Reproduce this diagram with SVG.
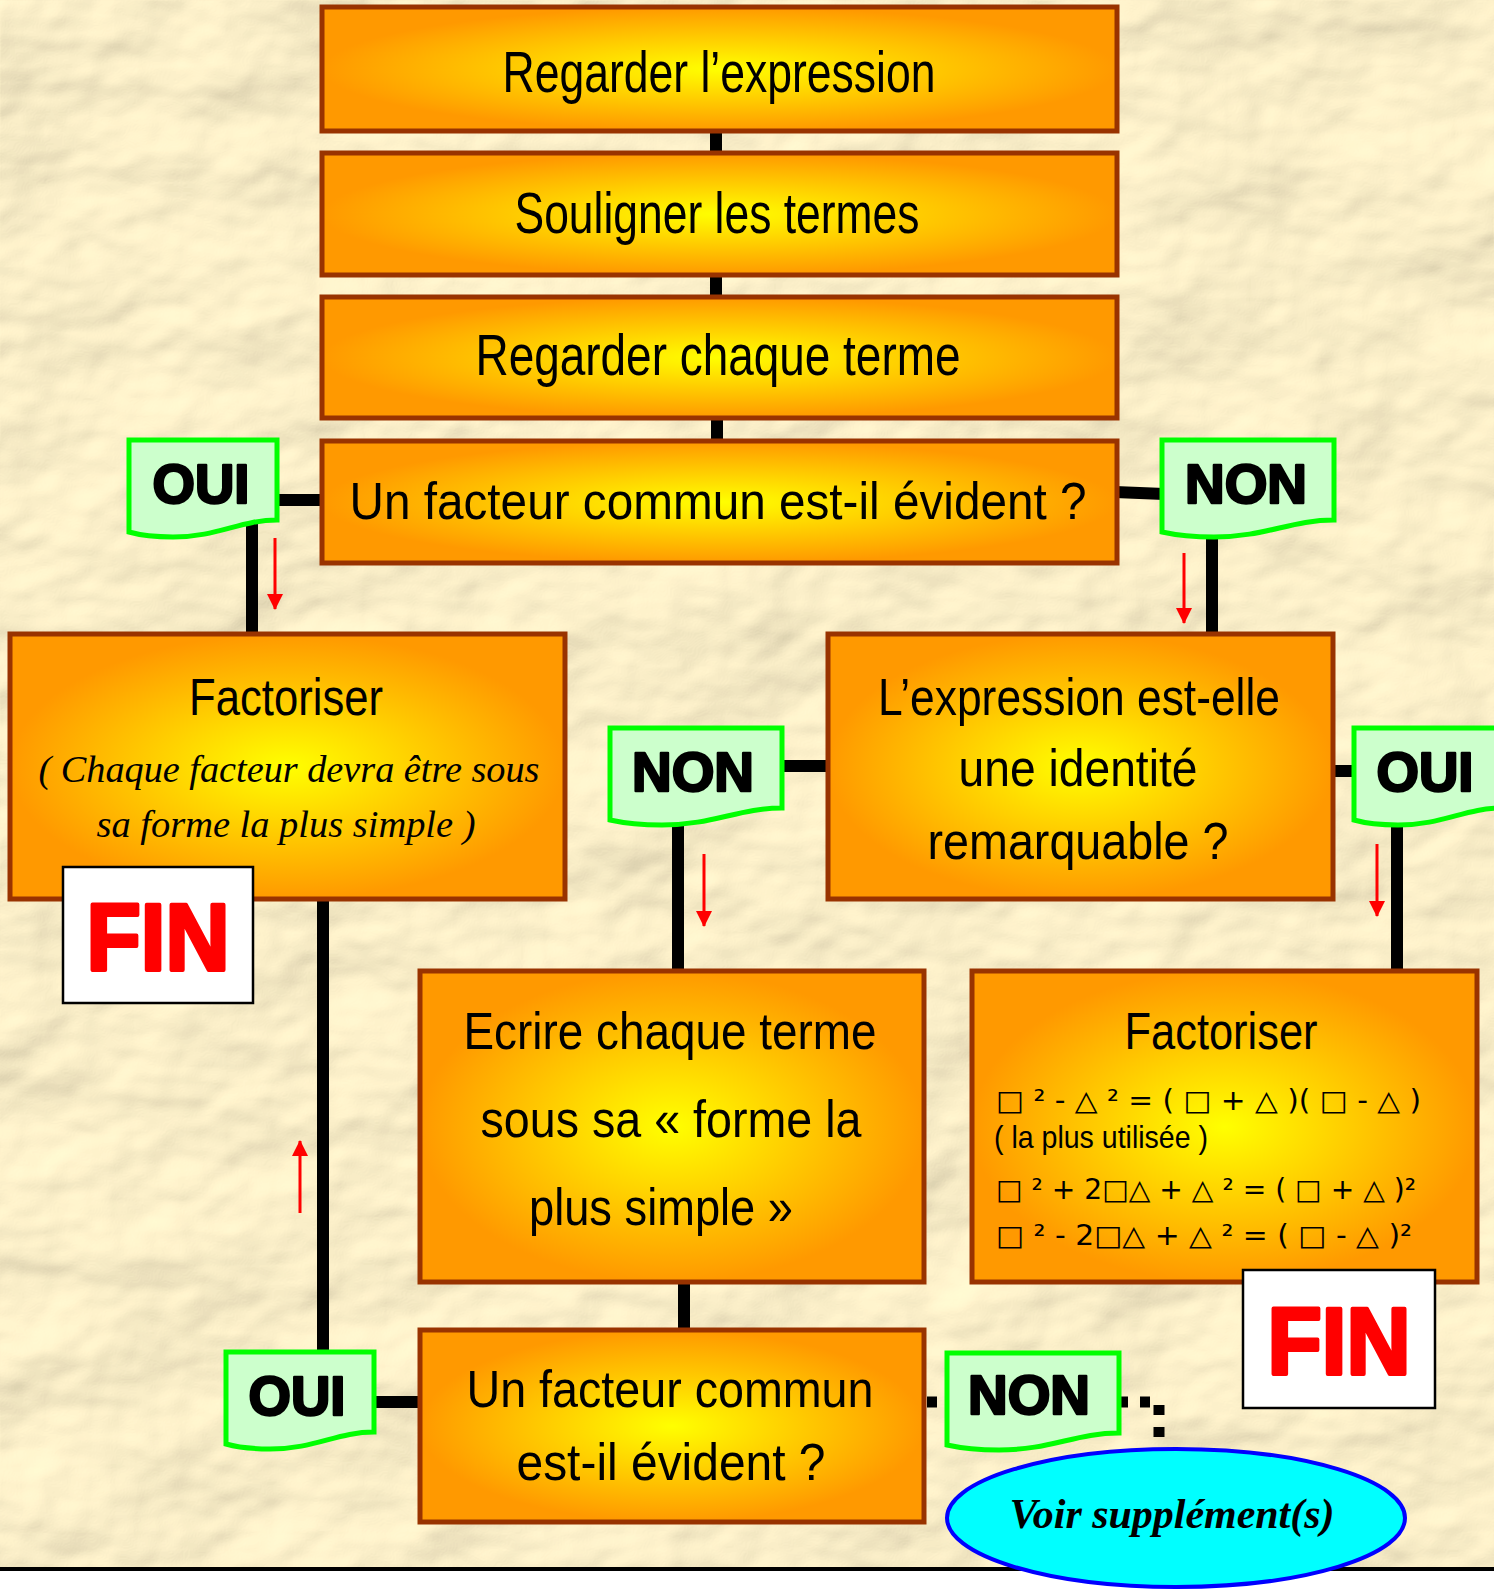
<svg xmlns="http://www.w3.org/2000/svg" xmlns:xlink="http://www.w3.org/1999/xlink" width="1494" height="1589" viewBox="0 0 1494 1589">
<style>
.box{fill:url(#boxg);stroke:#993300;stroke-width:5}
.flagshape{fill:#ccffcc;stroke:#00ff00;stroke-width:5}
.hw{font-family:"Liberation Sans","DejaVu Sans",sans-serif;fill:#000;text-anchor:middle}
.big{font-size:58px}
.mid{font-size:52px}
.scr{font-family:"Liberation Serif",serif;font-style:italic;fill:#000;text-anchor:middle}
.flagtxt{font-family:"Liberation Sans",sans-serif;font-weight:bold;font-size:55px;fill:#000;stroke:#000;stroke-width:2.5;stroke-linejoin:round;text-anchor:middle}
.fin{font-family:"Liberation Sans",sans-serif;font-weight:bold;font-size:94px;fill:#ff0000;stroke:#ff0000;stroke-width:4;stroke-linejoin:round;text-anchor:middle}
.finbox{fill:#fff;stroke:#000;stroke-width:2.5}
.math{font-family:"DejaVu Sans",sans-serif;font-size:28px;fill:#000}
.conn{stroke:#000;stroke-width:12;fill:none}
.dot{stroke:#000;stroke-width:11;fill:none;stroke-dasharray:10 12}
.red{stroke:#ff0000;stroke-width:3;fill:none;marker-end:url(#ah)}
</style>
<defs>
<radialGradient id="boxg" cx="50%" cy="50%" r="50%">
<stop offset="0" stop-color="#ffff00"/>
<stop offset="1" stop-color="#ff9900"/>
</radialGradient>
<filter id="paper" filterUnits="userSpaceOnUse" x="0" y="0" width="1494" height="1568">
<feTurbulence type="fractalNoise" baseFrequency="0.0055 0.0075" numOctaves="4" seed="11" result="noise"/>
<feDiffuseLighting in="noise" surfaceScale="13" diffuseConstant="1.08" lighting-color="#fff3cc" result="lit">
<feDistantLight azimuth="235" elevation="62"/>
</feDiffuseLighting>
<feComposite in="lit" in2="SourceGraphic" operator="in"/>
</filter>
<marker id="ah" viewBox="0 0 16 16" refX="15" refY="8" markerWidth="16" markerHeight="16" markerUnits="userSpaceOnUse" orient="auto">
<path d="M0,0 L16,8 L0,16 Z" fill="#ff0000"/>
</marker>
<path id="flagOUI" class="flagshape" d="M0,0 H148 V80 C111,80 89,97 44,97 C22,97 7,94 0,92 Z"/>
<path id="flagNON" class="flagshape" d="M0,0 H172 V80 C129,80 103,97 52,97 C26,97 9,94 0,92 Z"/>
</defs>

<g id="background">
<rect x="0" y="0" width="1494" height="1589" fill="#ffffff"/>
<rect x="0" y="0" width="1494" height="1568" fill="#fbf0cc" filter="url(#paper)"/>
<rect x="0" y="1567" width="1494" height="4" fill="#000"/>
</g>

<g id="connectors">
<line class="conn" x1="716" y1="129" x2="716" y2="155"/>
<line class="conn" x1="716" y1="273" x2="716" y2="299"/>
<line class="conn" x1="717" y1="416" x2="717" y2="443"/>
<line class="conn" x1="275" y1="500" x2="324" y2="500"/>
<line class="conn" x1="1115" y1="492" x2="1164" y2="494"/>
<line class="conn" x1="252" y1="520" x2="252" y2="636"/>
<line class="conn" x1="1212" y1="530" x2="1212" y2="636"/>
<line class="conn" x1="780" y1="766" x2="830" y2="766"/>
<line class="conn" x1="1331" y1="771" x2="1356" y2="771"/>
<line class="conn" x1="678" y1="815" x2="678" y2="973"/>
<line class="conn" x1="1397" y1="815" x2="1397" y2="973"/>
<line class="conn" x1="323" y1="897" x2="323" y2="1354"/>
<line class="conn" x1="372" y1="1402" x2="422" y2="1402"/>
<line class="conn" x1="684" y1="1280" x2="684" y2="1332"/>
<line class="dot" x1="926" y1="1402" x2="948" y2="1402" stroke-dasharray="10 6" stroke-dashoffset="-1"/>
<polyline class="dot" points="1118,1402 1159,1402 1159,1452"/>
<line class="red" x1="275" y1="538" x2="275" y2="609"/>
<line class="red" x1="1184" y1="553" x2="1184" y2="623"/>
<line class="red" x1="704" y1="854" x2="704" y2="926"/>
<line class="red" x1="1377" y1="844" x2="1377" y2="916"/>
<line class="red" x1="300" y1="1213" x2="300" y2="1141"/>
</g>

<g id="n1">
<rect class="box" x="322" y="7" width="795" height="124"/>
<text class="hw big" x="719" y="92" textLength="433" lengthAdjust="spacingAndGlyphs">Regarder l’expression</text>
</g>
<g id="n2">
<rect class="box" x="322" y="153" width="795" height="122"/>
<text class="hw big" x="717" y="233" textLength="405" lengthAdjust="spacingAndGlyphs">Souligner les termes</text>
</g>
<g id="n3">
<rect class="box" x="322" y="297" width="795" height="121"/>
<text class="hw big" x="718" y="375" textLength="485" lengthAdjust="spacingAndGlyphs">Regarder chaque terme</text>
</g>
<g id="n4">
<rect class="box" x="322" y="441" width="795" height="122"/>
<text class="hw mid" x="718" y="519" textLength="737" lengthAdjust="spacingAndGlyphs">Un facteur commun est-il évident ?</text>
</g>

<g id="oui1">
<use xlink:href="#flagOUI" x="129" y="440"/>
<text class="flagtxt" x="201" y="503" textLength="97" lengthAdjust="spacingAndGlyphs">OUI</text>
</g>
<g id="non1">
<use xlink:href="#flagNON" x="1162" y="440"/>
<text class="flagtxt" x="1246" y="503" textLength="122" lengthAdjust="spacingAndGlyphs">NON</text>
</g>

<g id="n5">
<rect class="box" x="10" y="634" width="555" height="265"/>
<text class="hw mid" x="286" y="715" textLength="194" lengthAdjust="spacingAndGlyphs">Factoriser</text>
<text class="scr" font-size="38" x="289" y="782" textLength="501" lengthAdjust="spacingAndGlyphs">( Chaque facteur devra être sous</text>
<text class="scr" font-size="38" x="286" y="837" textLength="379" lengthAdjust="spacingAndGlyphs">sa forme la plus simple )</text>
</g>
<g id="fin1">
<rect class="finbox" x="63" y="867" width="190" height="136"/>
<text class="fin" x="158" y="970" textLength="143" lengthAdjust="spacingAndGlyphs">FIN</text>
</g>

<g id="n6">
<rect class="box" x="828" y="634" width="505" height="265"/>
<text class="hw mid" x="1079" y="715" textLength="402" lengthAdjust="spacingAndGlyphs">L’expression est-elle</text>
<text class="hw mid" x="1078" y="786" textLength="239" lengthAdjust="spacingAndGlyphs">une identité</text>
<text class="hw mid" x="1078" y="859" textLength="301" lengthAdjust="spacingAndGlyphs">remarquable ?</text>
</g>
<g id="non2">
<use xlink:href="#flagNON" x="610" y="728"/>
<text class="flagtxt" x="693" y="791" textLength="122" lengthAdjust="spacingAndGlyphs">NON</text>
</g>
<g id="oui2">
<use xlink:href="#flagOUI" x="1354" y="728"/>
<text class="flagtxt" x="1425" y="791" textLength="97" lengthAdjust="spacingAndGlyphs">OUI</text>
</g>

<g id="n7">
<rect class="box" x="420" y="971" width="504" height="311"/>
<text class="hw mid" x="670" y="1049" textLength="413" lengthAdjust="spacingAndGlyphs">Ecrire chaque terme</text>
<text class="hw mid" x="671" y="1137" textLength="381" lengthAdjust="spacingAndGlyphs">sous sa « forme la</text>
<text class="hw mid" x="661" y="1225" textLength="264" lengthAdjust="spacingAndGlyphs">plus simple »</text>
</g>

<g id="n8">
<rect class="box" x="972" y="971" width="505" height="311"/>
<text class="hw mid" x="1221" y="1049" textLength="193" lengthAdjust="spacingAndGlyphs">Factoriser</text>
<text class="math" x="996" y="1110" textLength="425" lengthAdjust="spacingAndGlyphs">□ ² - △ ² = ( □ + △ )( □ - △ )</text>
<text class="hw" font-size="32" x="994" y="1148" textLength="214" lengthAdjust="spacingAndGlyphs" style="text-anchor:start">( la plus utilisée )</text>
<text class="math" x="996" y="1199" textLength="420" lengthAdjust="spacingAndGlyphs">□ ² + 2□△ + △ ² = ( □ + △ )²</text>
<text class="math" x="996" y="1245" textLength="416" lengthAdjust="spacingAndGlyphs">□ ² - 2□△ + △ ² = ( □ - △ )²</text>
</g>
<g id="fin2">
<rect class="finbox" x="1243" y="1270" width="192" height="138"/>
<text class="fin" x="1339" y="1374" textLength="143" lengthAdjust="spacingAndGlyphs">FIN</text>
</g>

<g id="n9">
<rect class="box" x="420" y="1330" width="504" height="192"/>
<text class="hw mid" x="670" y="1407" textLength="407" lengthAdjust="spacingAndGlyphs">Un facteur commun</text>
<text class="hw mid" x="671" y="1480" textLength="309" lengthAdjust="spacingAndGlyphs">est-il évident ?</text>
</g>
<g id="oui3">
<use xlink:href="#flagOUI" x="226" y="1352"/>
<text class="flagtxt" x="297" y="1415" textLength="97" lengthAdjust="spacingAndGlyphs">OUI</text>
</g>
<g id="non3">
<use xlink:href="#flagNON" x="947" y="1353"/>
<text class="flagtxt" x="1029" y="1414" textLength="122" lengthAdjust="spacingAndGlyphs">NON</text>
</g>

<g id="supplement">
<ellipse cx="1176" cy="1518" rx="229" ry="69" fill="#00ffff" stroke="#0000ff" stroke-width="4"/>
<text class="scr" font-size="42" font-weight="bold" x="1172" y="1528" textLength="325" lengthAdjust="spacingAndGlyphs">Voir supplément(s)</text>
</g>
</svg>
